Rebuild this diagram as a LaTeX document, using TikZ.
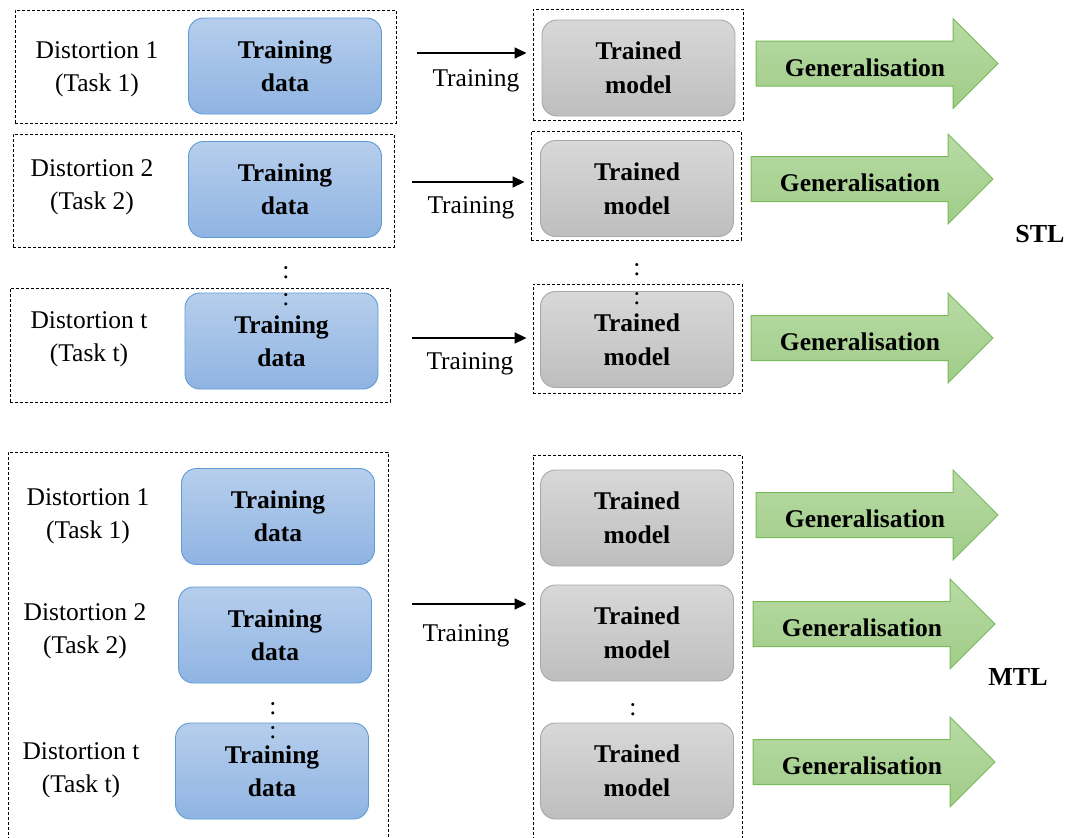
\documentclass[tikz,border=0pt]{standalone}
\usepackage{fontspec}
\setmainfont{Liberation Serif}
\usetikzlibrary{arrows.meta}
\definecolor{tdtop}{RGB}{182,206,236}
\definecolor{tdbot}{RGB}{143,180,226}
\definecolor{tdline}{RGB}{96,155,213}
\definecolor{tmtop}{RGB}{216,216,216}
\definecolor{tmbot}{RGB}{190,190,190}
\definecolor{tmline}{RGB}{168,168,168}
\definecolor{gntop}{RGB}{184,219,165}
\definecolor{gnbot}{RGB}{160,204,136}
\definecolor{gnline}{RGB}{122,186,88}
\tikzset{
  dbox/.style={draw,line width=.9pt,dash pattern=on 3pt off 2pt,inner sep=0},
  tdata/.style={draw=tdline,line width=.9pt,rounded corners=15,top color=tdtop,bottom color=tdbot,
    minimum width=193,minimum height=96,align=center,font=\fontsize{25.5}{33}\selectfont\bfseries},
  tmodel/.style={draw=tmline,line width=.9pt,rounded corners=15,top color=tmtop,bottom color=tmbot,
    minimum width=193,minimum height=96,align=center,font=\fontsize{25.5}{34}\selectfont\bfseries},
  gen/.style={draw=gnline,line width=1pt,top color=gntop,bottom color=gnbot},
  trarr/.style={-{Triangle[length=12pt,width=11pt]},line width=1.6pt,shorten >=6pt}
}
\begin{document}
\begin{tikzpicture}[x=1pt,y=-1pt,font=\fontsize{25.5}{33}\selectfont]
\useasboundingbox (0,0) rectangle (1071,838);

\node[dbox,minimum width=381,minimum height=113] (ld1) at (205.5,66.5) {};
\node[dbox,minimum width=381,minimum height=113] (ld2) at (203.5,190.5) {};
\node[dbox,minimum width=380,minimum height=114] (ld3) at (200,345) {};
\node[dbox,minimum width=210,minimum height=111] (rd1) at (638,64.5) {};
\node[dbox,minimum width=210,minimum height=109] (rd2) at (636,185.5) {};
\node[dbox,minimum width=209,minimum height=109] (rd3) at (637.5,338.5) {};

\node[align=center] (ds1) at (97,69) {Distortion 1\\(Task 1)};
\node[align=center] (ds2) at (92,187) {Distortion 2\\(Task 2)};
\node[align=center] (ds3) at (89,339) {Distortion t\\(Task t)};
\node[tdata] (td1) at (285,66) {Training\\data};
\node[tdata] (td2) at (285,189.5) {Training\\data};
\node[tdata] (td3) at (281.5,341) {Training\\data};
\node[tmodel] (tm1) at (638.5,68) {Trained\\model};
\node[tmodel] (tm2) at (637,188.5) {Trained\\model};
\node[tmodel] (tm3) at (637,339.5) {Trained\\model};

\node (dl1) at (286,273) {:};
\node (dl2) at (286,300) {:};
\node (dr1) at (637,270) {:};
\node (dr2) at (637,299) {:};

\coordinate (a1) at (417,53);
\coordinate (a2) at (412,182);
\coordinate (a3) at (412,338);
\draw[trarr] (a1) -- (a1 -| rd1.west);
\draw[trarr] (a2) -- (a2 -| rd2.west);
\draw[trarr] (a3) -- (a3 -| rd3.west);
\node (tl1) at (476,81) {Training};
\node (tl2) at (471,208) {Training};
\node (tl3) at (470,364) {Training};

\node[font=\fontsize{26}{30}\selectfont\bfseries] (stl) at (1040,234) {STL};

\node[dbox,minimum width=380,minimum height=400] (lb) at (198,652) {};
\node[dbox,minimum width=209,minimum height=400] (rb) at (637.5,655) {};

\node[align=center] (dm1) at (88,516) {Distortion 1\\(Task 1)};
\node[align=center] (dm2) at (85,631) {Distortion 2\\(Task 2)};
\node[align=center] (dm3) at (81,770) {Distortion t\\(Task t)};
\node[tdata] (tdm1) at (278,516.5) {Training\\data};
\node[tdata] (tdm2) at (275,635) {Training\\data};
\node[tdata] (tdm3) at (272,771) {Training\\data};
\node[tmodel] (tmm1) at (637,518) {Trained\\model};
\node[tmodel] (tmm2) at (637,633) {Trained\\model};
\node[tmodel] (tmm3) at (637,771) {Trained\\model};

\node (dm4) at (273,709) {:};
\node (dm5) at (273,733) {:};
\node (dm6) at (633,710) {:};

\coordinate (a4) at (412,604);
\draw[trarr] (a4) -- (a4 -| rb.west);
\node (tl4) at (466,636) {Training};

\node[font=\fontsize{26}{30}\selectfont\bfseries] (mtl) at (1018,677) {MTL};

\foreach \n/\x/\y in {1/756/63.5,2/751/179,3/751/338,4/756/515,5/753/624,6/753/762}{
  \draw[gen] (\x,\y-22.5) -- ++(197,0) -- ++(0,-22.5) -- ++(45,45) -- ++(-45,45) -- ++(0,-22.5) -- ++(-197,0) -- cycle;
  \node[font=\fontsize{25.5}{30}\selectfont\bfseries] (gl\n) at (\x+109,\y+4) {Generalisation};
}

\end{tikzpicture}
\end{document}
